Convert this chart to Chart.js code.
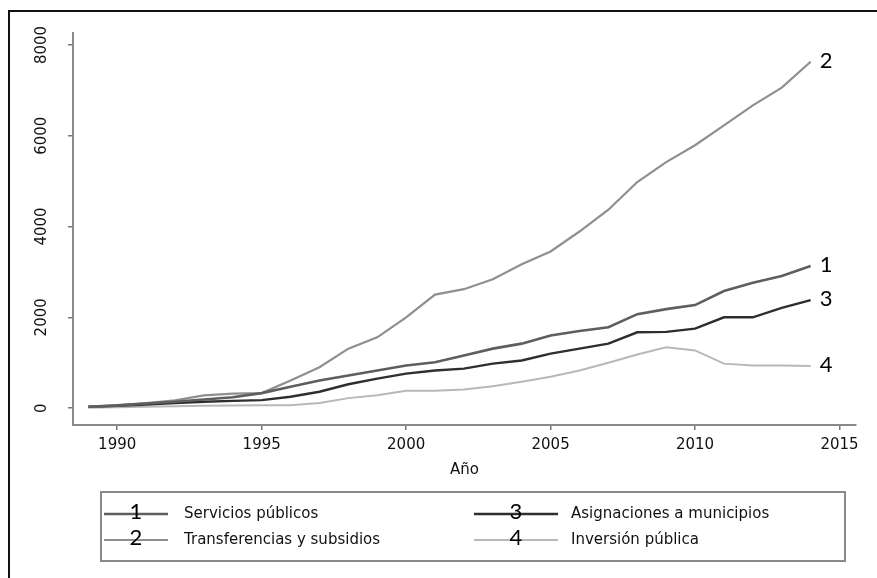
<!DOCTYPE html>
<html>
<head>
<meta charset="utf-8">
<script src="https://cdn.jsdelivr.net/npm/chart.js@4"></script>
<style>
  html, body { margin: 0; padding: 0; background: #fff; }
  #wrap { width: 877px; height: 578px; position: relative; }
</style>
</head>
<body>
<div id="wrap"><canvas id="gastoChart"></canvas></div>
<script>
// Años y series
const years = [1989, 1990, 1991, 1992, 1993, 1994, 1995, 1996, 1997, 1998, 1999, 2000, 2001,
  2002, 2003, 2004, 2005, 2006, 2007, 2008, 2009, 2010, 2011, 2012, 2013, 2014];
const servicios = [30, 60, 100, 140, 190, 240, 330, 470, 610, 720, 830, 940, 1010,
  1160, 1310, 1420, 1600, 1700, 1780, 2070, 2180, 2270, 2580, 2760, 2910, 3130];
const transferencias = [30, 60, 110, 170, 280, 320, 330, 610, 900, 1310, 1560, 2000, 2500,
  2620, 2840, 3170, 3450, 3890, 4370, 4980, 5420, 5790, 6230, 6670, 7060, 7630];
const asignaciones = [30, 50, 80, 110, 140, 160, 175, 250, 360, 525, 650, 760, 830,
  870, 980, 1050, 1200, 1310, 1420, 1670, 1680, 1750, 2000, 2000, 2210, 2380];
const inversion = [10, 20, 30, 40, 50, 60, 65, 65, 115, 220, 285, 380, 380,
  410, 480, 580, 690, 830, 1000, 1180, 1340, 1270, 980, 940, 940, 930];
const seriesNames = ['Servicios públicos', 'Transferencias y subsidios', 'Asignaciones a municipios', 'Inversión pública'];
const seriesTags = ['1', '2', '3', '4'];
const xTicks = [1990, 1995, 2000, 2005, 2010, 2015];
const yTicks = [0, 2000, 4000, 6000, 8000];

const colors = ['#5e5e5e', '#8f8f8f', '#2e2e2e', '#b8b8b8'];
const widths = [2.6, 2.2, 2.4, 2];
const allSeries = [servicios, transferencias, asignaciones, inversion];

function toPoints(vals) {
  return years.map((y, i) => ({ x: y, y: vals[i] }));
}

// marco exterior
const framePlugin = {
  id: 'frame',
  beforeDraw(chart) {
    const ctx = chart.ctx;
    ctx.save();
    ctx.fillStyle = '#fff';
    ctx.fillRect(0, 0, chart.width, chart.height);
    ctx.strokeStyle = '#111';
    ctx.lineWidth = 2;
    ctx.strokeRect(9, 11, 900, 600);
    ctx.restore();
  }
};

// números al final de cada línea
const endTagPlugin = {
  id: 'endTags',
  afterDatasetsDraw(chart) {
    const ctx = chart.ctx;
    ctx.save();
    ctx.font = '22px Lato';
    ctx.fillStyle = '#000';
    ctx.textBaseline = 'alphabetic';
    ctx.textAlign = 'left';
    chart.data.datasets.forEach((ds, i) => {
      const meta = chart.getDatasetMeta(i);
      const pt = meta.data[meta.data.length - 1];
      ctx.fillText(seriesTags[i], pt.x + 9, pt.y + 6);
    });
    ctx.restore();
  }
};

// leyenda tipo Stata, con el número sobre la línea
const legendPlugin = {
  id: 'stataLegend',
  afterDraw(chart) {
    const ctx = chart.ctx;
    ctx.save();
    ctx.strokeStyle = '#8a8a8a';
    ctx.lineWidth = 2;
    ctx.strokeRect(101, 492, 744, 69);
    const cols = [{ x0: 104, x1: 168, tx: 184 }, { x0: 474, x1: 558, tx: 571 }];
    const rows = [514, 540];
    const order = [[0, 0, 0], [1, 0, 1], [2, 1, 0], [3, 1, 1]];
    order.forEach(([si, c, r]) => {
      const col = cols[c];
      const y = rows[r];
      ctx.strokeStyle = colors[si];
      ctx.lineWidth = widths[si];
      ctx.beginPath();
      ctx.moveTo(col.x0, y);
      ctx.lineTo(col.x1, y);
      ctx.stroke();
      const mid = (col.x0 + col.x1) / 2;
      ctx.font = '22px Lato';
      ctx.fillStyle = '#000';
      ctx.textAlign = 'center';
      ctx.textBaseline = 'alphabetic';
      ctx.fillText(seriesTags[si], mid, y + 5);
      ctx.font = '15px "DejaVu Sans"';
      ctx.fillStyle = '#111';
      ctx.textAlign = 'left';
      ctx.textBaseline = 'middle';
      ctx.fillText(seriesNames[si], col.tx, y);
    });
    ctx.restore();
  }
};

const ctxEl = document.getElementById('gastoChart');
const gastoChart = new Chart(ctxEl, {
  type: 'line',
  data: {
    datasets: allSeries.map((vals, i) => ({
      label: seriesNames[i],
      data: toPoints(vals),
      borderColor: colors[i],
      borderWidth: widths[i],
      pointRadius: 0,
      tension: 0,
      fill: false
    }))
  },
  options: {
    responsive: true,
    maintainAspectRatio: false,
    animation: false,
    layout: { padding: { left: 0, top: 33, right: 21, bottom: 93 } },
    plugins: {
      legend: { display: false },
      tooltip: { enabled: false }
    },
    scales: {
      x: {
        type: 'linear',
        min: 1988.47,
        max: 2015.57,
        afterBuildTicks: (s) => { s.ticks = xTicks.map(v => ({ value: v })); },
        afterFit: (s) => { s.height = 60; },
        ticks: {
          callback: (v) => String(v),
          color: '#111',
          font: { family: 'DejaVu Sans', size: 15 },
          padding: 6,
          maxRotation: 0
        },
        grid: { drawOnChartArea: false, drawTicks: true, tickLength: 5, color: '#777', lineWidth: 1.5 },
        border: { display: true, color: '#8a8a8a', width: 2 },
        title: {
          display: true,
          text: 'Año',
          color: '#111',
          font: { family: 'DejaVu Sans', size: 15 },
          padding: { top: 2, bottom: 6 }
        }
      },
      y: {
        min: -372,
        max: 8263,
        afterBuildTicks: (s) => { s.ticks = yTicks.map(v => ({ value: v })); },
        afterFit: (s) => { s.width = 73; },
        ticks: {
          callback: (v) => String(v),
          color: '#111',
          font: { family: 'DejaVu Sans', size: 15 },
          minRotation: 90,
          maxRotation: 90,
          crossAlign: 'center',
          padding: 7
        },
        grid: { drawOnChartArea: false, drawTicks: true, tickLength: 5, color: '#777', lineWidth: 1.5 },
        border: { display: true, color: '#8a8a8a', width: 2 }
      }
    }
  },
  plugins: [framePlugin, endTagPlugin, legendPlugin]
});
</script>
</body>
</html>
